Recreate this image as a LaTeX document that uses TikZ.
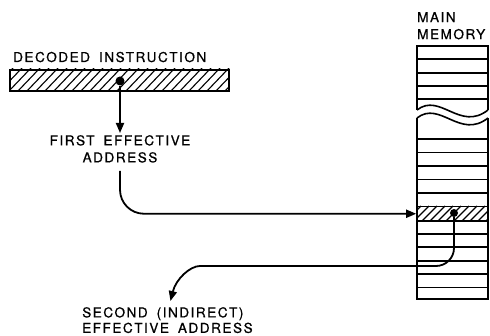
\documentclass[tikz,border=0pt]{standalone}
\usepackage{fontspec}
\newfontfamily\lett[LetterSpace=11,FakeBold=0.7,WordSpace=1.7]{TeX Gyre Heros}
\usetikzlibrary{arrows.meta}
\begin{document}
\begin{tikzpicture}[x=1pt,y=-1pt,
  lbl/.style={font=\lett\fontsize{13.6}{17}\selectfont, inner sep=2pt},
  ln/.style={line width=1.8pt},
  arr/.style={ln,-{Triangle[length=10pt,width=8pt]}},
  cell/.style={line width=1.6pt},
  hatch/.style={line width=1.1pt},
  dot/.style={circle, fill, inner sep=0pt, minimum size=9pt},
]
\useasboundingbox (0,0) rectangle (490,336);

% ---------- decoded instruction bar ----------
\node[lbl, anchor=base west] (dec) at (11,62) {DECODED INSTRUCTION};
\node[draw, line width=1.7pt, minimum width=219pt, minimum height=21pt, inner sep=0pt, anchor=north west] (bar) at (9,69) {};
\begin{scope}
  \clip (bar.south west) rectangle (bar.north east);
  \foreach \i in {-27,-18,...,240} \draw[hatch] (\i,91) -- (\i+22,68);
\end{scope}
\node[dot] (d1) at (120,81) {};

% ---------- labels ----------
\node[lbl, align=center, anchor=north] (fa) at (120,133) {FIRST EFFECTIVE\\ADDRESS};
\node[lbl, align=left, anchor=north west, font=\lett\fontsize{13.6}{15.5}\selectfont] (sec) at (80,305) {SECOND (INDIRECT)\\EFFECTIVE ADDRESS};
\node[lbl, align=left, anchor=north west] (mm) at (415,10) {MAIN\\MEMORY};

% ---------- main memory ----------
% upper part
\draw[cell] (417,110) -- (417,46) -- (488,46) -- (488,110);
\foreach \y in {59,73,86,99} \draw[cell] (417,\y) -- (488,\y);
% break
\draw[cell] (417,110) .. controls (440,92) and (460,132) .. (488,110);
\draw[cell] (417,118) .. controls (440,100) and (460,140) .. (488,118);
% lower part
\draw[cell] (417,118) -- (417,299) -- (488,299) -- (488,118);
\foreach \y in {139,152.5,166,179.5,193,234,247,261,274,287.5} \draw[cell] (417,\y) -- (488,\y);
% addressed cell
\node[draw, cell, minimum width=71pt, minimum height=14.5pt, inner sep=0pt] (hat) at (452.5,213.75) {};
\begin{scope}
  \clip (hat.south west) rectangle (hat.north east);
  \foreach \i in {405,413,...,490} \draw[hatch] (\i,222) -- (\i+16,206);
\end{scope}
\node[dot, minimum size=8pt] (d2) at (454,213) {};

% ---------- connectors ----------
\draw[arr] (d1.south) -- (fa.north);
\draw[arr, rounded corners=24pt] ([yshift=-6pt]fa.south) |- (hat.west);
\draw[arr, rounded corners=18pt] (d2.south) -- (454,266) -- (218,266)
  .. controls (190,266) and (176,279) .. ([xshift=3pt,yshift=4pt]sec.north);
\end{tikzpicture}
\end{document}
